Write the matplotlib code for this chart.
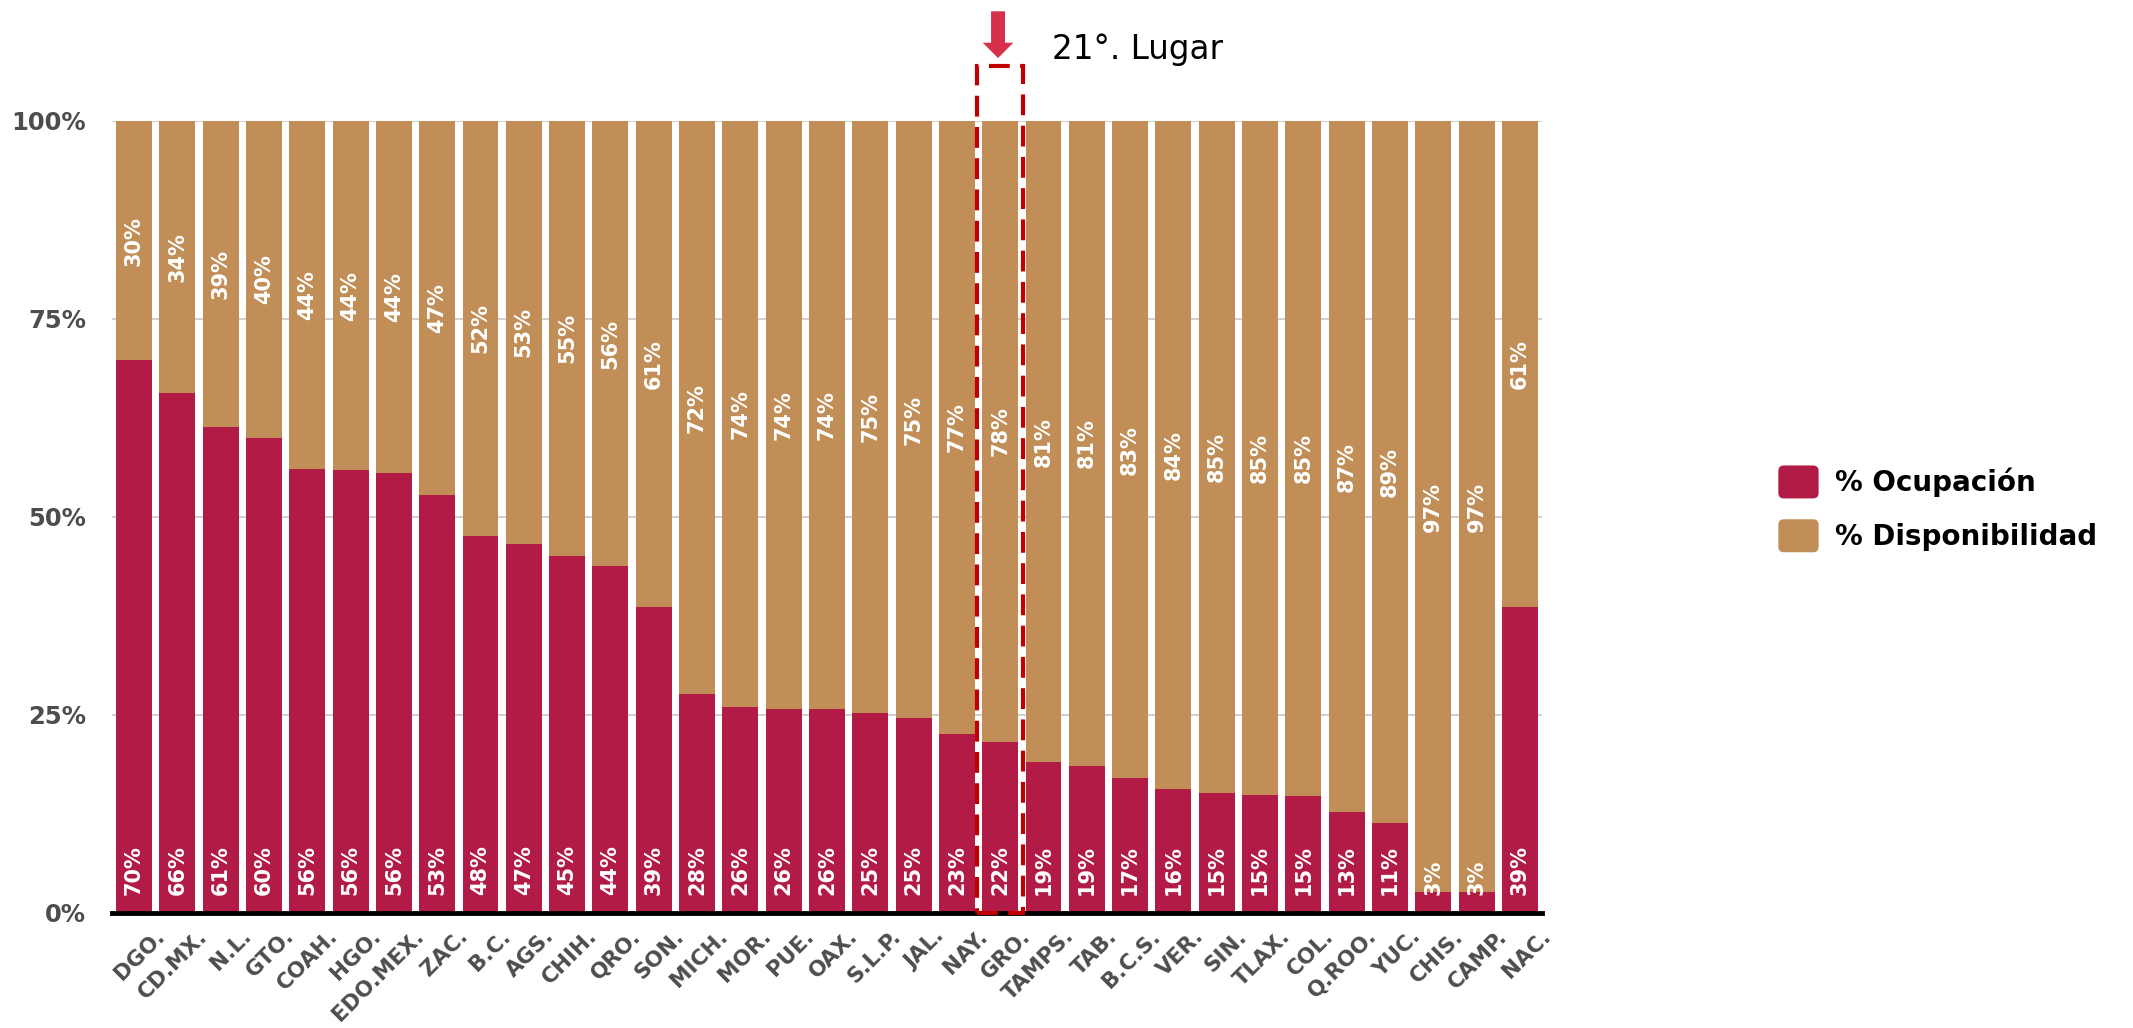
import matplotlib
matplotlib.use("Agg")
import matplotlib.pyplot as plt
from matplotlib.patches import Rectangle, Patch, FancyBboxPatch
from matplotlib.legend_handler import HandlerPatch
from matplotlib.transforms import ScaledTranslation

estados = ["DGO.", "CD.MX.", "N.L.", "GTO.", "COAH.", "HGO.", "EDO.MEX.", "ZAC.",
           "B.C.", "AGS.", "CHIH.", "QRO.", "SON.", "MICH.", "MOR.", "PUE.", "OAX.",
           "S.L.P.", "JAL.", "NAY.", "GRO.", "TAMPS.", "TAB.", "B.C.S.", "VER.",
           "SIN.", "TLAX.", "COL.", "Q.ROO.", "YUC.", "CHIS.", "CAMP.", "NAC."]

# % ocupacion (bar heights)
ocupacion = [69.8, 65.7, 61.4, 60.0, 56.1, 55.9, 55.6, 52.8, 47.6, 46.6, 45.1, 43.8,
             38.6, 27.6, 26.0, 25.8, 25.7, 25.2, 24.6, 22.6, 21.6, 19.0, 18.6, 17.0,
             15.6, 15.2, 14.9, 14.8, 12.7, 11.3, 2.6, 2.6, 38.6]
# printed labels
etiqueta_ocup = [70, 66, 61, 60, 56, 56, 56, 53, 48, 47, 45, 44, 39, 28, 26, 26, 26,
                 25, 25, 23, 22, 19, 19, 17, 16, 15, 15, 15, 13, 11, 3, 3, 39]
etiqueta_disp = [30, 34, 39, 40, 44, 44, 44, 47, 52, 53, 55, 56, 61, 72, 74, 74, 74,
                 75, 75, 77, 78, 81, 81, 83, 84, 85, 85, 85, 87, 89, 97, 97, 61]

destacado = 20  # GRO., 21o lugar

ROJO = "#b21b45"
ORO = "#c08e56"
GRIS = "#4d4d4d"


class RoundHandler(HandlerPatch):
    def create_artists(self, legend, orig_handle, xdescent, ydescent, width, height,
                       fontsize, trans):
        p = FancyBboxPatch((-xdescent + 2, -ydescent + 2), width - 4, height - 4,
                           boxstyle="round,pad=2,rounding_size=4",
                           facecolor=orig_handle.get_facecolor(), edgecolor="none",
                           transform=trans)
        return [p]


disponibilidad = [100 - v for v in ocupacion]
x = list(range(len(estados)))

fig = plt.figure(figsize=(21.33, 10.28), dpi=100)
ax = fig.add_axes([0.0527, 0.1119, 0.670, 0.7704])

ax.bar(x, ocupacion, width=0.83, color=ROJO, zorder=2)
ax.bar(x, disponibilidad, width=0.83, bottom=ocupacion, color=ORO, zorder=2)

for i in x:
    ax.text(i, 2.3, f"{etiqueta_ocup[i]}%", rotation=90, ha="center", va="bottom",
            color="white", fontsize=15, fontweight="bold", zorder=3)
    ax.text(i, ocupacion[i] + disponibilidad[i] / 2, f"{etiqueta_disp[i]}%",
            rotation=90, ha="center", va="center", color="white", fontsize=15,
            fontweight="bold", zorder=3)

ax.set_xlim(-0.5, len(estados) - 0.5)
ax.set_ylim(0, 100)
ax.set_yticks([0, 25, 50, 75, 100])
ax.set_yticklabels(["0%", "25%", "50%", "75%", "100%"], fontsize=17.5,
                   fontweight="bold", color=GRIS)
ax.tick_params(axis="y", length=0, pad=19)
ax.yaxis.grid(True, color="#c8c8c8", linewidth=1.2, zorder=0)
ax.set_axisbelow(True)

ax.set_xticks(x)
ax.set_xticklabels(estados, rotation=45, ha="right", rotation_mode="anchor",
                   fontsize=15.5, fontweight="bold", color=GRIS)
ax.tick_params(axis="x", length=0, pad=0)
off = ScaledTranslation(0.2, -0.13, fig.dpi_scale_trans)
for lab in ax.get_xticklabels():
    lab.set_transform(lab.get_transform() + off)

for s in ["top", "right", "left"]:
    ax.spines[s].set_visible(False)
ax.spines["bottom"].set_linewidth(3.5)
ax.spines["bottom"].set_color("black")
ax.spines["bottom"].set_zorder(4)

# recuadro del 21o lugar
rect = Rectangle((destacado - 0.53, 0), 1.06, 107.0, fill=False, edgecolor="#c00000",
                 linestyle=(0, (5, 2.5)), linewidth=3, clip_on=False, zorder=5)
ax.add_patch(rect)
ax.annotate("", xy=(destacado - 0.05, 107.6), xytext=(destacado - 0.05, 114.2),
            arrowprops=dict(arrowstyle="simple,head_width=1.1,head_length=0.55,tail_width=0.5",
                            mutation_scale=20, color="#d6304a", lw=0),
            annotation_clip=False)
ax.text(destacado + 1.2, 109.0, "21°. Lugar", fontsize=23.5, color="black",
        ha="left", va="center")

handles = [Patch(facecolor=ROJO, label="% Ocupación"),
           Patch(facecolor=ORO, label="% Disponibilidad")]
fig.legend(handles=handles, loc="center left", bbox_to_anchor=(0.822, 0.505),
           frameon=False, handlelength=1.45, handleheight=1.45,
           handletextpad=0.6, labelspacing=0.75, prop={"weight": "bold", "size": 20},
           handler_map={Patch: RoundHandler()})

fig.savefig("out.png", dpi=100)
